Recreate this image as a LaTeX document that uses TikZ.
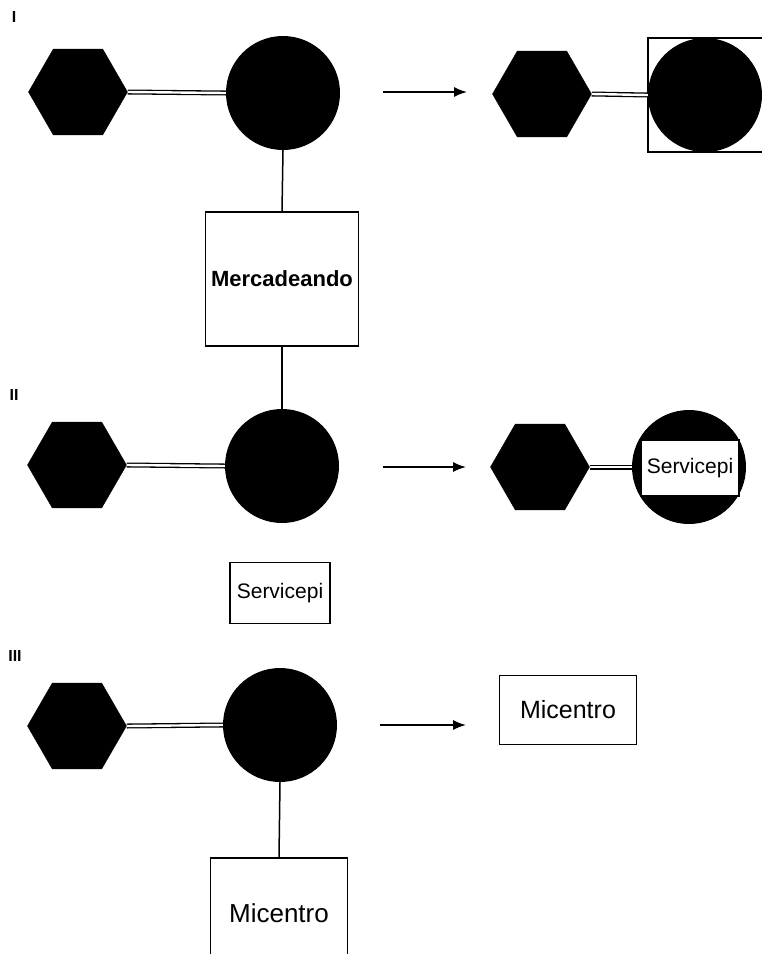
\documentclass[tikz,border=0pt]{standalone}
\usepackage{fontspec}
\setmainfont{Liberation Sans}
\usetikzlibrary{shapes.geometric,arrows.meta}
\begin{document}
\begin{tikzpicture}[x=1pt,y=-1pt,
  hexa/.style={regular polygon,regular polygon sides=6,minimum size=99pt,inner sep=0pt,fill=black,draw=black},
  ball/.style={circle,minimum size=114pt,inner sep=0pt,fill=black},
  box/.style={draw=black,line width=1.5pt,rectangle,inner sep=0pt,fill=white},
  bond/.style={double=white,double distance=2.4pt,line width=1.3pt},
  link/.style={line width=1.5pt},
  arr/.style={line width=1.5pt,-{Latex[length=13pt,width=10pt]}},
  lab/.style={font=\bfseries\fontsize{16}{16}\selectfont,inner sep=0pt},
  txt/.style={font=\fontsize{#1}{#1}\selectfont}]
\useasboundingbox (0,0) rectangle (762,954);
\clip (0,0) rectangle (762,954);
% ---------- I ----------
\node[lab] (lI) at (14,17) {I};
\node[hexa] (h1) at (78,92) {};
\node[ball] (c1) at (283,93) {};
\draw[bond] (h1.east) -- (c1.west);
\node[box,minimum width=153pt,minimum height=134pt,font=\bfseries\fontsize{22}{22}\selectfont] (m1) at (282,279) {Mercadeando};
\draw[link] (c1.south) -- (m1.north);
\coordinate (a1s) at (383,92);
\coordinate (a1e) at (467,92);
\draw[arr] (a1s) -- (a1e);
\node[hexa] (h1r) at (542,94) {};
\node[box,fill=none,minimum width=120pt,minimum height=114pt] (b1r) at (708,95) {};
\node[ball] (c1r) at (705,95) {};
\draw[bond] (h1r.east) -- (c1r.west);
% ---------- II ----------
\node[lab] (lII) at (14,395) {II};
\node[hexa] (h2) at (77,465) {};
\node[ball] (c2) at (282,466) {};
\draw[bond] (h2.east) -- (c2.west);
\draw[link] (m1.south) -- (c2.north);
\node[box,minimum width=100pt,minimum height=61pt,txt=21] (s2) at (280,593) {Servicepi};
\coordinate (a2s) at (383,467);
\coordinate (a2e) at (466,467);
\draw[arr] (a2s) -- (a2e);
\node[hexa] (h2r) at (540,467) {};
\node[ball] (c2r) at (689,467) {};
\draw[bond] (h2r.east) -- (c2r.west);
\node[box,minimum width=98pt,minimum height=56pt,txt=21] (s2r) at (690,468) {Servicepi};
% ---------- III ----------
\node[lab] (lIII) at (15,656) {III};
\node[hexa] (h3) at (77,726) {};
\node[ball] (c3) at (280,725) {};
\draw[bond] (h3.east) -- (c3.west);
\node[box,minimum width=137pt,minimum height=110pt,txt=26] (m3) at (279,913) {Micentro};
\draw[link] (c3.south) -- (m3.north);
\coordinate (a3s) at (380,725);
\coordinate (a3e) at (466,725);
\draw[arr] (a3s) -- (a3e);
\node[box,minimum width=137pt,minimum height=69pt,txt=25] (m3r) at (568,710) {Micentro};
\end{tikzpicture}
\end{document}
